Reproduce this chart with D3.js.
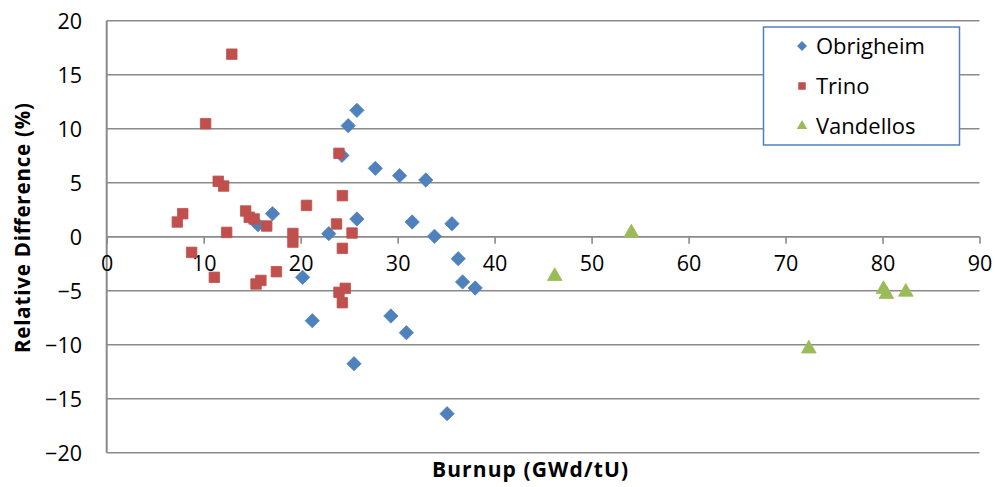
<!DOCTYPE html>
<html>
<head>
<meta charset="utf-8">
<script src="https://cdn.jsdelivr.net/npm/d3@7/dist/d3.min.js"></script>
<style>
  html, body { margin: 0; padding: 0; background: #fff; }
  svg { display: block; }
  text { font-family: "Open Sans", "Liberation Sans", sans-serif; fill: #000; }
</style>
</head>
<body>
<svg id="chart" width="995" height="487"></svg>
<script>
// Burnup (GWd/tU) and relative difference (%) for each reactor
const obrigheimBurnup = [25.8, 24.9, 24.26, 27.7, 30.2, 32.9, 17.1, 15.6, 25.8, 22.9, 31.5,
  35.6, 33.8, 36.25, 36.7, 38.0, 20.2, 21.2, 29.3, 30.9, 25.5, 35.1];
const obrigheimDiff = [11.7, 10.28, 7.53, 6.33, 5.65, 5.25, 2.13, 1.11, 1.64, 0.28, 1.36,
  1.2, 0.04, -2.04, -4.19, -4.75, -3.76, -7.78, -7.34, -8.89, -11.76, -16.39];

const trinoBurnup = [12.9, 10.2, 11.5, 12.06, 7.84, 7.28, 12.37, 14.33, 14.7, 15.2, 16.5,
  19.2, 19.2, 8.76, 11.1, 15.4, 15.9, 17.5, 23.95, 24.3, 20.6, 23.7, 25.3, 24.3, 23.95, 24.6, 24.3];
const trinoDiff = [16.9, 10.46, 5.13, 4.69, 2.13, 1.36, 0.4, 2.38, 1.8, 1.64, 0.99,
  0.3, -0.5, -1.45, -3.76, -4.38, -4.05, -3.24, 7.72, 3.8, 2.9, 1.18, 0.34, -1.08, -5.15, -4.78, -6.11];

const vandellosBurnup = [54.1, 46.2, 80.1, 80.4, 82.4, 72.4];
const vandellosDiff = [0.37, -3.67, -4.87, -5.33, -5.12, -10.37];

const seriesNames = ["Obrigheim", "Trino", "Vandellos"];
const seriesColors = ["#4F81BD", "#C0504D", "#9BBB59"];

const xTicks = [0, 10, 20, 30, 40, 50, 60, 70, 80, 90];
const yTicks = [-20, -15, -10, -5, 0, 5, 10, 15, 20];

const xTitle = "Burnup (GWd/tU)";
const yTitle = "Relative Difference (%)";

const svg = d3.select("#chart");

const plot = { left: 106.7, right: 979.5, top: 20.7, bottom: 452.7 };
const x = d3.scaleLinear().domain([0, 90]).range([plot.left, plot.right]);
const y = d3.scaleLinear().domain([-20, 20]).range([plot.bottom, plot.top]);

const gridColor = "#8a8a8a";

// horizontal gridlines
svg.append("g")
  .selectAll("line")
  .data(yTicks)
  .join("line")
  .attr("x1", plot.left).attr("x2", plot.right)
  .attr("y1", d => y(d)).attr("y2", d => y(d))
  .attr("stroke", gridColor).attr("stroke-width", 1.6);

// vertical axis line
svg.append("line")
  .attr("x1", plot.left).attr("x2", plot.left)
  .attr("y1", plot.top).attr("y2", plot.bottom)
  .attr("stroke", gridColor).attr("stroke-width", 2);

// y tick labels
const yAxis = d3.axisLeft(y).tickValues(yTicks).tickSize(0).tickPadding(0);
const gy = svg.append("g").attr("transform", "translate(82,0)").call(yAxis);
gy.select(".domain").remove();
gy.selectAll("text")
  .attr("font-size", "21.5px")
  .attr("font-family", "'Open Sans', sans-serif")
  .attr("fill", "#000")
  .attr("dy", "0.36em");

// x axis along zero, ticks pointing down
const xAxis = d3.axisBottom(x).tickValues(xTicks).tickSize(7).tickPadding(12);
const gx = svg.append("g").attr("transform", `translate(0,${y(0)})`).call(xAxis);
gx.select(".domain").attr("stroke", gridColor).attr("stroke-width", 1.6)
  .attr("d", `M${plot.left},0H${plot.right}`);
gx.selectAll(".tick line").attr("stroke", gridColor).attr("stroke-width", 1.6);
gx.selectAll("text")
  .attr("font-size", "21.5px")
  .attr("font-family", "'Open Sans', sans-serif")
  .attr("fill", "#000");

// markers
const diamond = d3.symbol().type(d3.symbolDiamond2).size(130);
const square = d3.symbol().type(d3.symbolSquare2).size(140);
const triangle = d3.symbol().type(d3.symbolTriangle2).size(155);

const series = [
  { burnup: obrigheimBurnup, diff: obrigheimDiff, sym: diamond, color: seriesColors[0] },
  { burnup: trinoBurnup, diff: trinoDiff, sym: square, color: seriesColors[1] },
  { burnup: vandellosBurnup, diff: vandellosDiff, sym: triangle, color: seriesColors[2] }
];

series.forEach(s => {
  const pts = s.burnup.map((b, i) => [b, s.diff[i]]);
  svg.append("g")
    .selectAll("path")
    .data(pts)
    .join("path")
    .attr("d", s.sym)
    .attr("transform", d => `translate(${x(d[0])},${y(d[1])})`)
    .attr("fill", s.color)
    .attr("stroke", s.color)
    .attr("stroke-width", 0.8);
});

// legend
const legend = svg.append("g");
legend.append("rect")
  .attr("x", 763.5).attr("y", 27).attr("width", 196).attr("height", 118)
  .attr("fill", "#fff").attr("stroke", "#4F81BD").attr("stroke-width", 1.5);
const legendSyms = [
  d3.symbol().type(d3.symbolDiamond2).size(64),
  d3.symbol().type(d3.symbolSquare2).size(72),
  d3.symbol().type(d3.symbolTriangle2).size(80)
];
seriesNames.forEach((name, i) => {
  const cy = 46 + i * 40;
  legend.append("path")
    .attr("d", legendSyms[i])
    .attr("transform", `translate(802,${cy})`)
    .attr("fill", seriesColors[i]);
  legend.append("text")
    .attr("x", 816).attr("y", cy)
    .attr("dy", "0.36em")
    .attr("font-size", "22px")
    .text(name);
});

// axis titles
svg.append("text")
  .attr("x", 530).attr("y", 469)
  .attr("text-anchor", "middle")
  .attr("dy", "0.36em")
  .attr("font-size", "21px")
  .attr("font-weight", "bold")
  .attr("textLength", 196)
  .attr("lengthAdjust", "spacing")
  .text(xTitle);

svg.append("text")
  .attr("transform", "translate(23,228) rotate(-90)")
  .attr("text-anchor", "middle")
  .attr("dy", "0.36em")
  .attr("font-size", "20.5px")
  .attr("font-weight", "bold")
  .attr("textLength", 250)
  .attr("lengthAdjust", "spacing")
  .text(yTitle);
</script>
</body>
</html>
